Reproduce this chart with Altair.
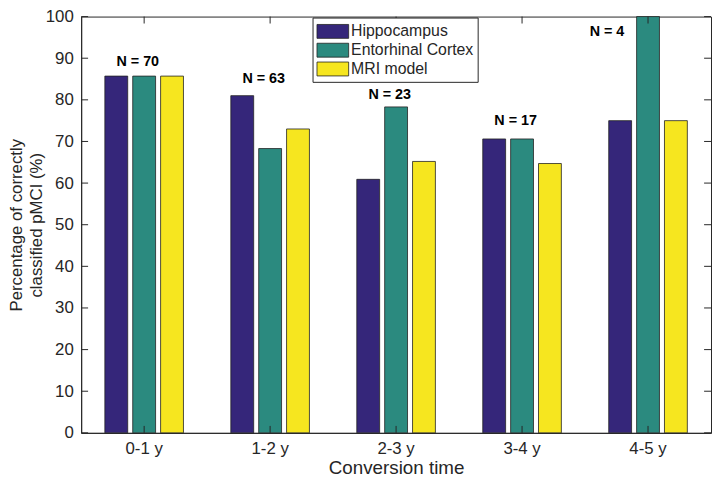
import altair as alt
import pandas as pd

groups = ["0-1 y", "1-2 y", "2-3 y", "3-4 y", "4-5 y"]
series = ["Hippocampus", "Entorhinal Cortex", "MRI model"]
hippo = [85.7, 81.0, 60.9, 70.6, 75.0]
ec = [85.7, 68.3, 78.3, 70.6, 100.0]
mri = [85.7, 73.0, 65.2, 64.7, 75.0]
n_labels = ["N = 70", "N = 63", "N = 23", "N = 17", "N = 4"]
n_label_y = [89.0, 84.9, 81.2, 75.0, 96.4]
y_ticks = [0, 10, 20, 30, 40, 50, 60, 70, 80, 90, 100]
colors = ["#35267a", "#2b8a7f", "#f6e61f"]

rows = []
for i, g in enumerate(groups):
    for s, vals in zip(series, [hippo, ec, mri]):
        rows.append({"group": g, "series": s, "value": vals[i]})
df = pd.DataFrame(rows)
lab = pd.DataFrame({"group": groups, "label": n_labels, "y": n_label_y})
ticks_df = pd.DataFrame({"t": y_ticks})
grp_df = pd.DataFrame({"group": groups})

W, H = 637, 421
FONT = "Liberation Sans"
AX = "#262626"

xscale = alt.Scale(domain=groups, paddingInner=0.376, paddingOuter=0.188)
yscale = alt.Scale(domain=[0, 100], nice=False)

bars = alt.Chart(df).mark_bar(stroke="#222222", strokeWidth=0.8).encode(
    x=alt.X("group:N", scale=xscale, sort=groups,
            axis=alt.Axis(title="Conversion time", labelAngle=0, labelFontSize=17,
                          titleFontSize=19, titleFontWeight="normal", tickSize=0,
                          labelPadding=8, titlePadding=2, labelColor=AX, titleColor=AX,
                          domainColor=AX, labelFont=FONT, titleFont=FONT)),
    xOffset=alt.XOffset("series:N", sort=series,
                        scale=alt.Scale(paddingInner=0.18, paddingOuter=0)),
    y=alt.Y("value:Q", scale=yscale,
            axis=alt.Axis(title=["Percentage of correctly", "classified pMCI (%)"],
                          values=y_ticks, labelFontSize=17, titleFontSize=17,
                          titleFontWeight="normal", tickSize=0, labelPadding=8,
                          titlePadding=0, titleLineHeight=20, grid=False,
                          labelColor=AX, titleColor=AX,
                          domainColor=AX, labelFont=FONT, titleFont=FONT)),
    color=alt.Color("series:N", sort=series,
                    scale=alt.Scale(domain=series, range=colors),
                    legend=alt.Legend(title=None, orient="none", legendX=234, legendY=1,
                                      symbolType="M-1,-0.74H2.37V0.74H-1Z", symbolSize=361,
                                      symbolStrokeColor="#222222", symbolStrokeWidth=0.8,
                                      labelFontSize=16, labelFont=FONT, labelColor=AX,
                                      labelExpr="datum.label + '\\u00a0\\u00a0\\u00a0\\u00a0\\u00a0\\u00a0'",
                                      strokeColor=AX, fillColor="white", padding=4,
                                      rowPadding=0, labelOffset=15)),
)

def nlabel(sel, dx):
    return alt.Chart(lab).transform_filter(
        alt.FieldOneOfPredicate(field="group", oneOf=sel)
    ).mark_text(fontWeight="bold", fontSize=14.5, font=FONT, color="black",
                align="left", dx=dx).encode(
        x=alt.X("group:N", scale=xscale, sort=groups),
        y=alt.Y("y:Q", scale=yscale),
        text="label:N",
    )

texts_a = nlabel(groups[:4], -28)
texts_b = nlabel(groups[4:], -59)

left_ticks = alt.Chart(ticks_df).mark_rule(color=AX).encode(
    y=alt.Y("t:Q", scale=yscale), x=alt.value(0), x2=alt.value(7))
right_ticks = alt.Chart(ticks_df).mark_rule(color=AX).encode(
    y=alt.Y("t:Q", scale=yscale), x=alt.value(W - 7), x2=alt.value(W))
bottom_ticks = alt.Chart(grp_df).mark_rule(color=AX).encode(
    x=alt.X("group:N", scale=xscale, sort=groups), y=alt.value(H - 7), y2=alt.value(H))
top_ticks = alt.Chart(grp_df).mark_rule(color=AX).encode(
    x=alt.X("group:N", scale=xscale, sort=groups), y=alt.value(0), y2=alt.value(7))

chart = alt.layer(bars, texts_a, texts_b, left_ticks, right_ticks, bottom_ticks, top_ticks).properties(
    width=W, height=H, autosize=alt.AutoSizeParams(type="none"),
    padding={"left": 74, "top": 6, "right": 1, "bottom": 44},
).configure_view(stroke=AX, strokeWidth=1)

chart.save("out.html", embed_options={"renderer": "svg", "actions": False})
